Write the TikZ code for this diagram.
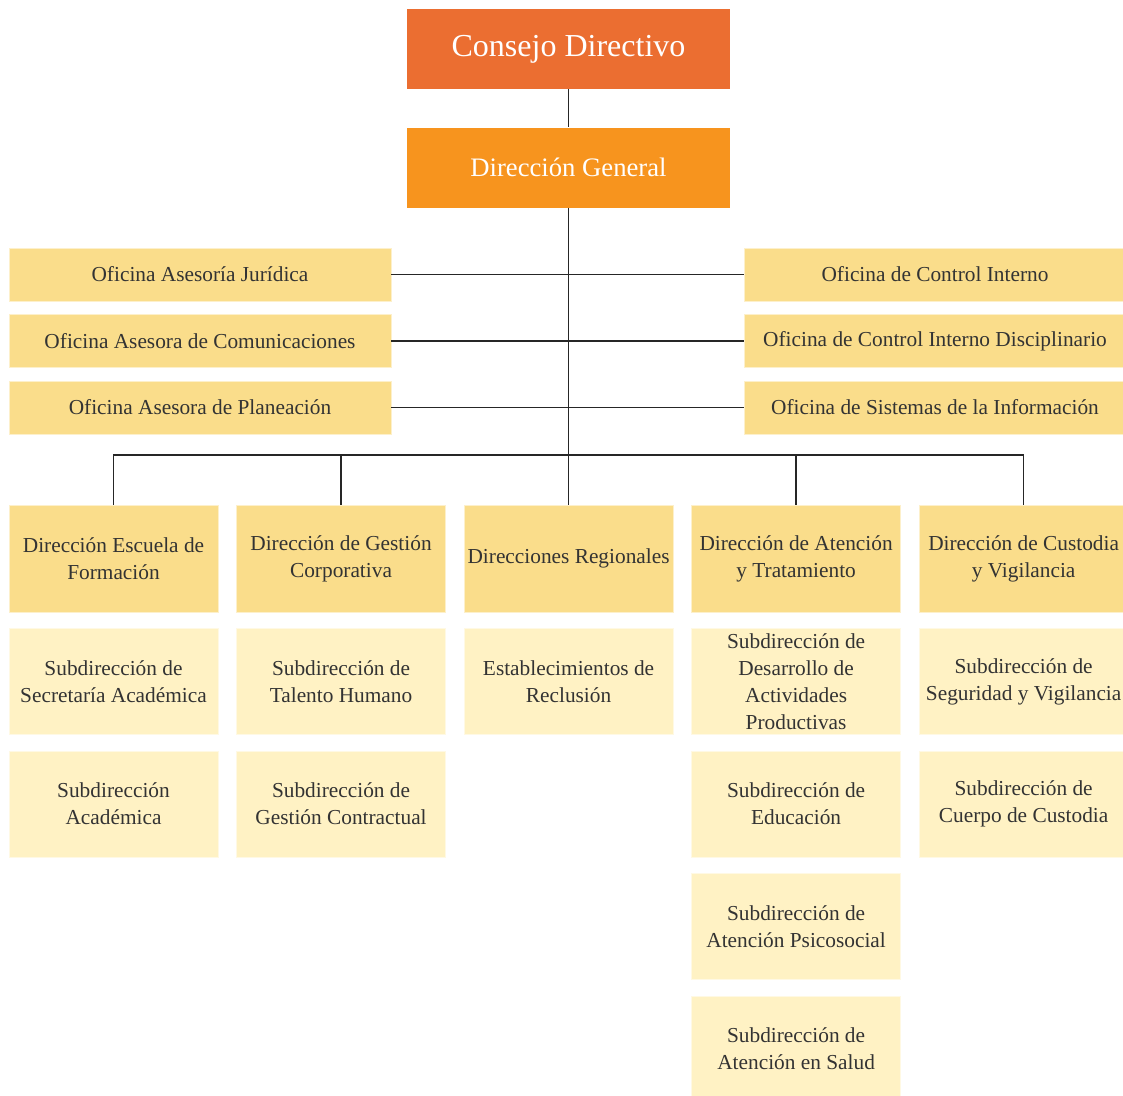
\documentclass[tikz,border=0pt]{standalone}
\usepackage{fontspec}
\setmainfont{Liberation Serif}
\usetikzlibrary{positioning}
\definecolor{consejoOrange}{HTML}{EB6E31}
\definecolor{generalOrange}{HTML}{F7941E}
\definecolor{officeYellow}{HTML}{FADD8B}
\definecolor{subYellow}{HTML}{FFF2C4}
\definecolor{ink}{HTML}{333333}
\def\rowgap{12pt}
\tikzstyle{box}=[rectangle,inner sep=0pt,align=center,text=ink,font=\fontsize{16}{20.25}\selectfont]
\tikzstyle{head box}=[box,text=white,minimum width=242.25pt,minimum height=60pt]
\tikzstyle{office box}=[box,fill=officeYellow,draw=officeYellow!45!white,minimum width=286.5pt,minimum height=39.75pt]
\tikzstyle{branch box}=[box,fill=officeYellow,draw=officeYellow!45!white,minimum width=156.75pt,minimum height=80.25pt]
\tikzstyle{sub box}=[box,fill=subYellow,draw=subYellow!45!white,minimum width=156.75pt,minimum height=79.5pt]
\tikzstyle{link}=[draw=black!85,line width=1.1pt]

\begin{document}
\begin{tikzpicture}[x=0.75pt,y=-0.75pt]
\useasboundingbox (0,0) rectangle (1123,1095);

			% Draw the two head boxes
			\node[head box,fill=consejoOrange,font=\fontsize{24}{29}\selectfont] (C) at (568.5,49) {Consejo Directivo};
			\node[head box,fill=generalOrange,font=\fontsize{20}{24}\selectfont,below=28.5pt of C] (G) {Dirección General};

			% Draw the advisory offices
			\node[office box] (L-1) at (200,274.5) {Oficina Asesoría Jurídica};
			\node[office box,below=9.75pt of L-1] (L-2) {Oficina Asesora de Comunicaciones};
			\node[office box,below=9.75pt of L-2] (L-3) {Oficina Asesora de Planeación};
			\node[office box] (R-1) at (935,274.5) {Oficina de Control Interno};
			\node[office box,below=9.75pt of R-1] (R-2) {Oficina de Control Interno Disciplinario};
			\node[office box,below=9.75pt of R-2] (R-3) {Oficina de Sistemas de la Información};

			% Draw the directions
			\node[branch box] (D-1) at (113.5,558.5) {Dirección Escuela de\\Formación};
			\node[branch box,right=13.5pt of D-1] (D-2) {Dirección de Gestión\\Corporativa};
			\node[branch box,right=13.5pt of D-2] (D-3) {Direcciones Regionales};
			\node[branch box,right=13.5pt of D-3] (D-4) {Dirección de Atención\\y Tratamiento};
			\node[branch box,right=13.5pt of D-4] (D-5) {Dirección de Custodia\\y Vigilancia};

			% Draw the sub-directions under each direction
			\node[sub box,below=\rowgap of D-1] (S-1-1) {Subdirección de\\Secretaría Académica};
			\node[sub box,below=\rowgap of S-1-1] (S-1-2) {Subdirección\\Académica};
			\node[sub box,below=\rowgap of D-2] (S-2-1) {Subdirección de\\Talento Humano};
			\node[sub box,below=\rowgap of S-2-1] (S-2-2) {Subdirección de\\Gestión Contractual};
			\node[sub box,below=\rowgap of D-3] (S-3-1) {Establecimientos de\\Reclusión};
			\node[sub box,below=\rowgap of D-4] (S-4-1) {Subdirección de\\Desarrollo de\\Actividades\\Productivas};
			\node[sub box,below=\rowgap of S-4-1] (S-4-2) {Subdirección de\\Educación};
			\node[sub box,below=\rowgap of S-4-2] (S-4-3) {Subdirección de\\Atención Psicosocial};
			\node[sub box,below=\rowgap of S-4-3] (S-4-4) {Subdirección de\\Atención en Salud};
			\node[sub box,below=\rowgap of D-5] (S-5-1) {Subdirección de\\Seguridad y Vigilancia};
			\node[sub box,below=\rowgap of S-5-1] (S-5-2) {Subdirección de\\Cuerpo de Custodia};

			% Connect the head boxes and the offices
			\coordinate (bus) at (568.5,455);
			\draw[link] (C) -- (G);
			\draw[link] (G) -- (bus);
			\foreach \row in {1,2,3}
			\draw[link] (L-\row) -- (R-\row);

			% Connect every direction to the bus
			\foreach \dest in {1,...,5}
			\draw[link] (D-\dest) |- (bus);
\end{tikzpicture}
\end{document}
